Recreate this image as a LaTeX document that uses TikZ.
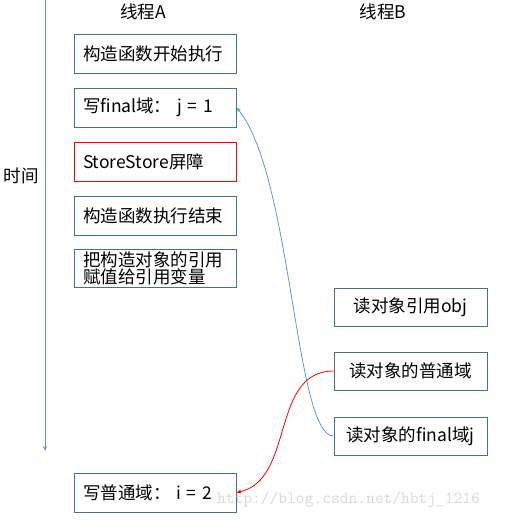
\documentclass[tikz,border=0pt]{standalone}
\usepackage{fontspec}
\setmainfont{Noto Sans CJK SC}
\setmonofont{Latin Modern Mono}
\usetikzlibrary{arrows.meta}
\definecolor{boxblue}{HTML}{41719C}
\definecolor{lineblue}{HTML}{5B9BD5}
\definecolor{wmgray}{HTML}{D9D9D9}
\begin{document}
\begin{tikzpicture}[x=1pt,y=-1pt,
  lbox/.style={draw=boxblue,line width=1pt,minimum width=162pt,minimum height=39pt,
    text width=144pt,align=left,inner xsep=9pt,inner ysep=0pt,font=\fontsize{17.5}{18.5}\selectfont},
  rbox/.style={draw=boxblue,line width=1pt,minimum width=153pt,minimum height=38pt,
    align=center,inner sep=0pt,font=\fontsize{17.5}{18.5}\selectfont},
  lbl/.style={font=\fontsize{17.5}{18.5}\selectfont,inner sep=0pt},
  tip/.style={-{Stealth[length=5pt,width=4pt]}}]
\useasboundingbox (0,0) rectangle (508,522);
% timeline
\coordinate (t0) at (45,0);
\coordinate (t1) at (45,451);
\draw[lineblue,line width=0.9pt,tip] (t0) -- (t1);
\node[lbl] (time) at (21,176) {时间};
\node[lbl] (ta) at (143,12) {线程A};
\node[lbl] (tb) at (383,12) {线程B};
% thread A
\node[lbox] (a1) at (155,53.5) {构造函数开始执行};
\node[lbox] (a2) at (155,107.5) {写final域：\ j = 1};
\node[lbox,draw=red] (a3) at (155,161.5) {StoreStore屏障};
\node[lbox] (a4) at (155,215.5) {构造函数执行结束};
\node[lbox,minimum height=38pt] (a5) at (155,268.5) {把构造对象的引用\\[-1pt]赋值给引用变量};
\node[lbox] (a6) at (155,492.5) {写普通域：\ i = 2};
% thread B
\node[rbox] (b1) at (410.5,307) {读对象引用obj};
\node[rbox] (b2) at (410.5,371) {读对象的普通域};
\node[rbox] (b3) at (410.5,436) {读对象的final域j};
% connectors
\draw[lineblue,line width=0.8pt,tip] (b3.west) .. controls (295,436) and (292,175) .. (a2.east);
\draw[red,line width=0.8pt,tip] (b2.west) .. controls (270,371) and (295,480) .. (a6.east);
% watermark
\node[font=\ttfamily\fontsize{17}{18}\selectfont,text=wmgray,inner sep=0pt,anchor=west] (wm) at (217,500) {http://blog.csdn.net/hbtj\_1216};
\end{tikzpicture}
\end{document}
